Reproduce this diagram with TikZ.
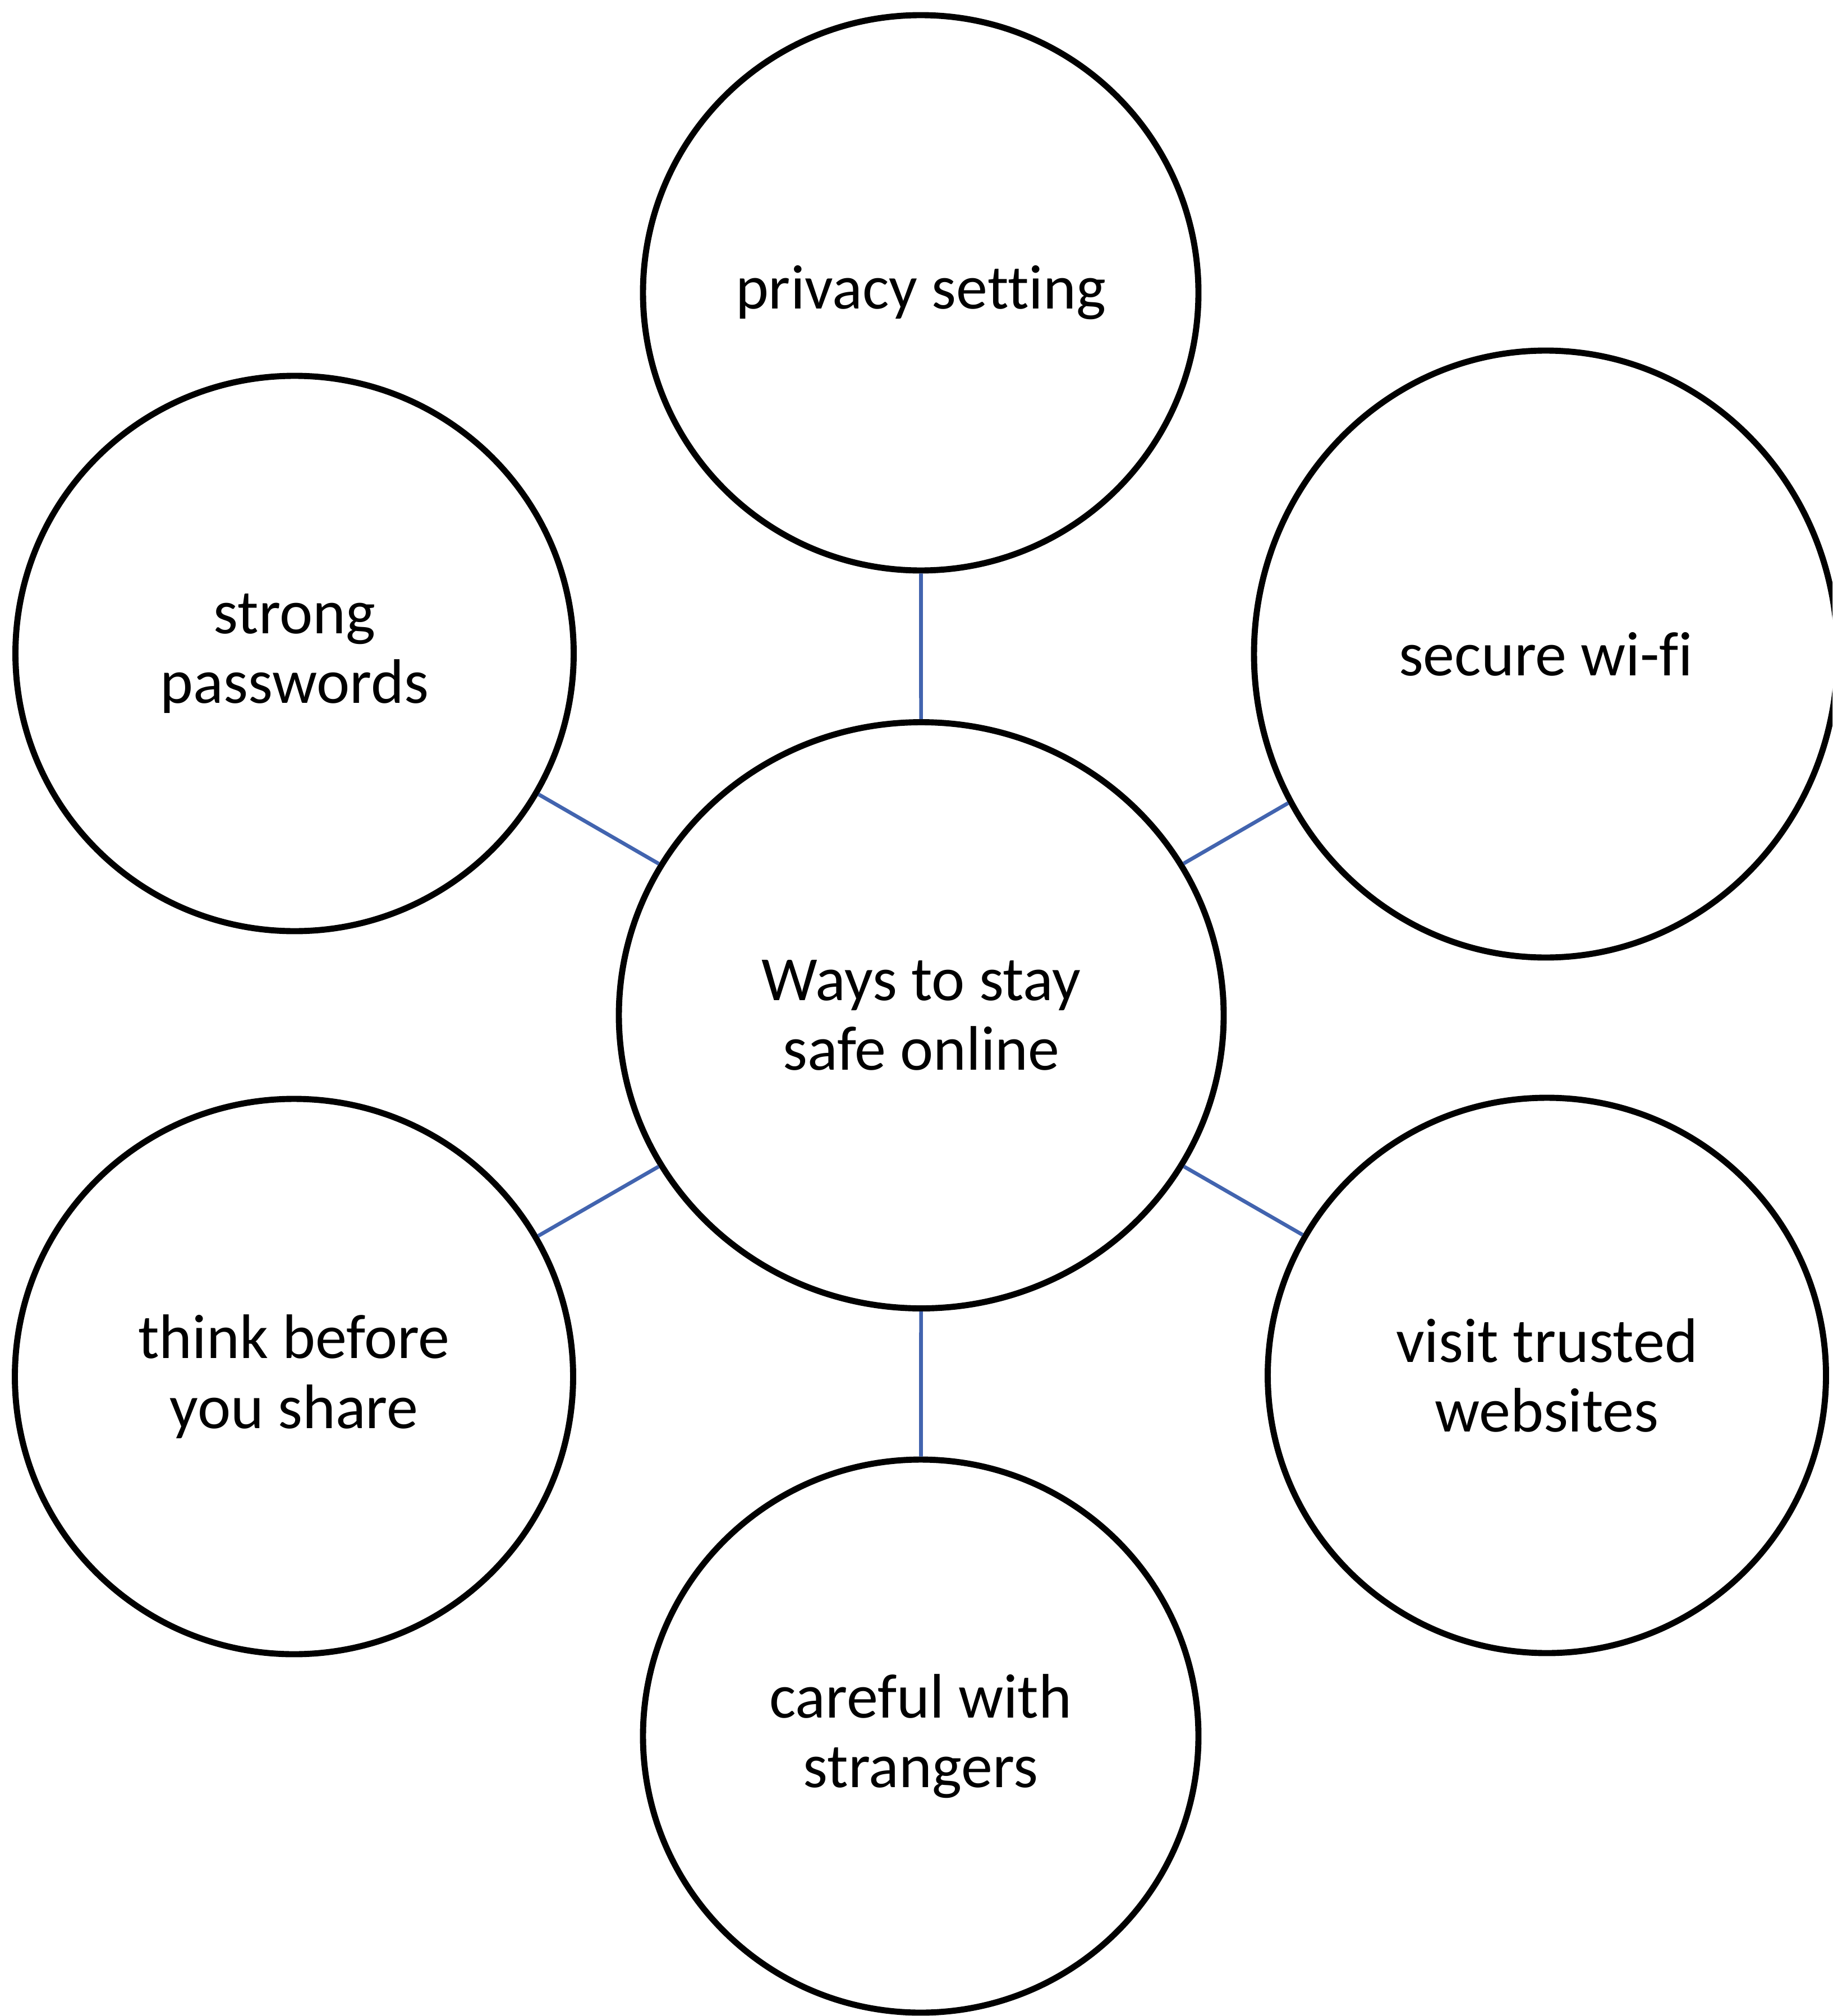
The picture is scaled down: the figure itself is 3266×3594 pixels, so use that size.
\documentclass[tikz,border=0pt]{standalone}
\usepackage{fontspec}
\setmainfont{Carlito}[Ligatures=NoCommon]
\usetikzlibrary{shapes.geometric}
\definecolor{linkblue}{RGB}{66,100,175}
\begin{document}
\begin{tikzpicture}[x=0.1mm,y=-0.1mm,
  bubble/.style={draw=black, line width=3.1pt, ellipse, inner sep=0pt,
    align=center, font=\fontsize{31.9}{35.4}\selectfont},
  link/.style={draw=linkblue, line width=1.9pt}]
\clip (0,0) rectangle (3266,3594);
\fill[white] (0,0) rectangle (3266,3594);
\node[bubble, minimum width=107.8mm, minimum height=104.5mm] (c) at (1642,1810) {Ways to stay\\safe online};
\node[bubble, minimum width=99mm, minimum height=99mm] (ps) at (1641,522) {privacy setting};
\node[bubble, minimum width=104mm, minimum height=108.2mm] (wf) at (2755,1166) {secure wi-fi};
\node[bubble, minimum width=99.5mm, minimum height=99mm] (pw) at (525,1165) {strong\\passwords};
\node[bubble, minimum width=99.5mm, minimum height=99mm] (tb) at (524,2454) {think before\\you share};
\node[bubble, minimum width=99.5mm, minimum height=99mm] (vt) at (2757,2452) {visit trusted\\websites};
\node[bubble, minimum width=99mm, minimum height=98.6mm] (cs) at (1641,3095) {careful with\\strangers};
\draw[link] (c) -- (ps);
\draw[link] (c) -- (wf);
\draw[link] (c) -- (pw);
\draw[link] (c) -- (tb);
\draw[link] (c) -- (vt);
\draw[link] (c) -- (cs);
\end{tikzpicture}
\end{document}
